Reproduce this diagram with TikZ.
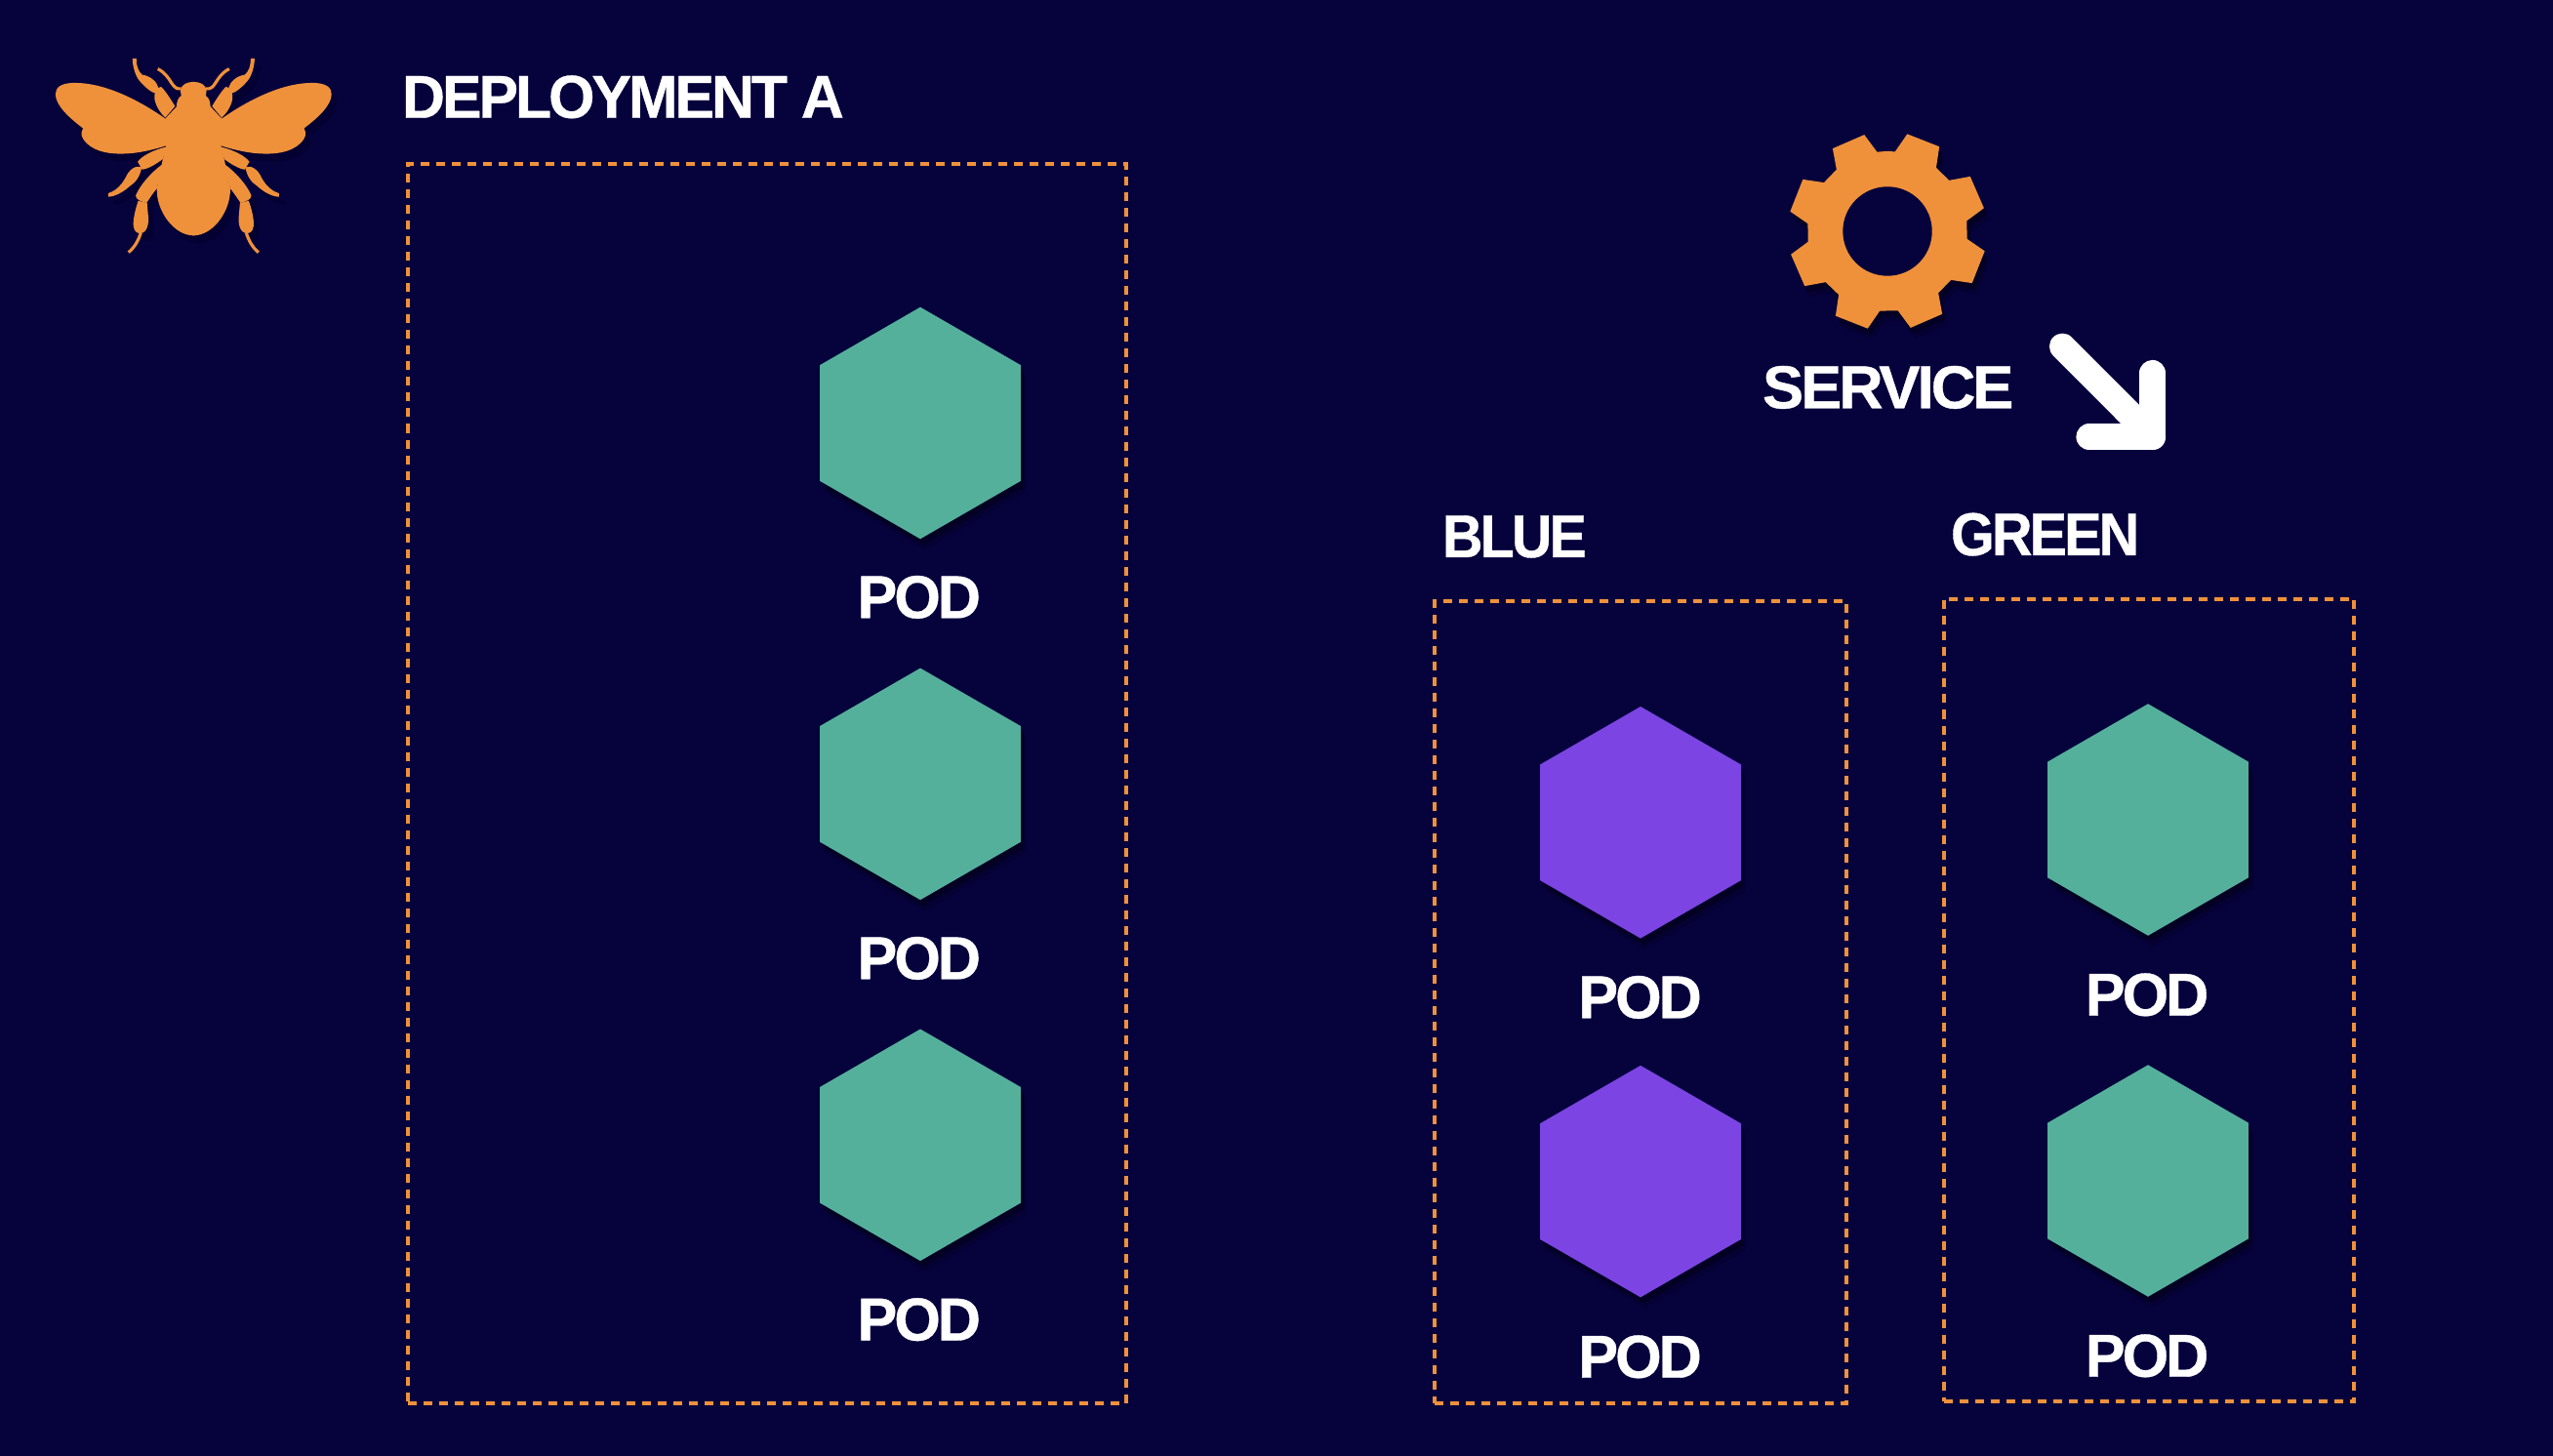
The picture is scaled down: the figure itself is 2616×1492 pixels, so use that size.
\documentclass[tikz,border=0pt]{standalone}
\usepackage{fontspec}
\usepackage{graphicx}
\usepackage{xcolor}
\usetikzlibrary{shapes.geometric,shadows}
\setmainfont[LetterSpace=-5,BoldFeatures={FakeBold=0.6}]{Liberation Sans}
\definecolor{bgblue}{HTML}{06023C}
\definecolor{beeorange}{HTML}{EF913A}
\definecolor{podgreen}{HTML}{54B09B}
\definecolor{podpurple}{HTML}{7B44E3}
\definecolor{shadowblue}{HTML}{03012A}
\tikzset{
    softshadow/.style={
        drop shadow={shadow xshift=0.05cm,shadow yshift=-0.11cm,opacity=0.15,fill=black},
        drop shadow={shadow xshift=0.03cm,shadow yshift=-0.06cm,opacity=0.3,fill=black}},
    pod/.style={regular polygon,regular polygon sides=6,shape border rotate=30,minimum size=2.374cm,inner sep=0pt,outer sep=0pt,softshadow},
    greenpod/.style={pod,fill=podgreen},
    purplepod/.style={pod,fill=podpurple},
    label/.style={text=white,font=\fontsize{17.65}{20}\selectfont\bfseries,inner sep=0pt,outer sep=0pt},
    podlabel/.style={label,anchor=base},
    title/.style={label,anchor=base west},
    dashbox/.style={draw=beeorange,line width=0.04cm,dash pattern=on 0.09cm off 0.07cm,anchor=north west,inner sep=0pt,outer sep=0pt},
    bigarrow/.style={draw=white,line width=0.267cm,line cap=round,line join=round},
    beefill/.style={fill=beeorange},
    beeline/.style={draw=beeorange,line width=0.9pt}
}
\newcommand{\podtext}{\scalebox{0.985}[1]{POD}}
\newcommand{\beehalf}{
    \fill[beefill] (-3,132) -- (0,132) .. controls (20,132) and (38,140) .. (40,158) -- (38,175) .. controls (48,180) and (52,195) .. (52,208) -- (87,245) -- (85,330) -- (95,372) -- (113,460) .. controls (115,530) and (60,605) .. (0,605) -- (-3,605) -- cycle;
    \fill[beefill] (87,245) .. controls (180,180) and (280,135) .. (365,135) .. controls (410,135) and (425,150) .. (425,170) .. controls (425,205) and (380,245) .. (340,275) .. controls (350,290) and (345,305) .. (330,320) .. controls (300,350) and (250,355) .. (210,353) .. controls (170,352) and (120,340) .. (83,328) -- (70,290) -- cycle;
    \draw[beeline] (38,153) .. controls (70,158) and (65,115) .. (110,92);
    \fill[beefill] (57,207) .. controls (70,185) and (90,155) .. (100,147) .. controls (115,150) and (122,165) .. (120,185) .. controls (115,210) and (100,230) .. (87,242) -- cycle;
    \fill[beefill] (108,150) .. controls (113,130) and (135,113) .. (158,110) .. controls (170,100) and (177,80) .. (176,60) -- (188,60) .. controls (188,85) and (178,115) .. (167,128) .. controls (150,148) and (130,165) .. (115,168) -- cycle;
    \fill[beefill] (83,332) .. controls (120,340) and (160,360) .. (172,378) -- (158,402) .. controls (140,400) and (115,385) .. (95,370) -- cycle;
    \fill[beefill] (160,395) .. controls (175,388) and (197,398) .. (210,428) .. controls (225,455) and (245,470) .. (263,475) -- (263,486) .. controls (240,485) and (215,470) .. (195,452) .. controls (178,442) and (163,420) .. (160,395) -- cycle;
    \fill[beefill] (95,385) .. controls (130,410) and (165,450) .. (178,482) .. controls (178,495) and (160,500) .. (145,505) .. controls (135,490) and (125,475) .. (113,460) -- cycle;
    \fill[beefill] (143,505) -- (170,498) .. controls (178,520) and (187,555) .. (185,575) .. controls (183,592) and (175,598) .. (165,598) .. controls (143,598) and (136,570) .. (140,540) -- cycle;
    \draw[beeline] (162,596) .. controls (170,620) and (180,640) .. (200,657);
}
\begin{document}
\begin{tikzpicture}[x=0.01cm,y=-0.01cm]
        \useasboundingbox (0,0) rectangle (2616,1492);
        \fill[bgblue] (0,0) rectangle (2616,1492);

        % bee
        \begin{scope}[shift={(204,48)},x=0.00333cm,y=-0.00333cm,
                beefill/.style={fill=shadowblue,opacity=0.5},beeline/.style={draw=none}]
            \beehalf
        \end{scope}
        \begin{scope}[shift={(204,48)},x=-0.00333cm,y=-0.00333cm,
                beefill/.style={fill=shadowblue,opacity=0.5},beeline/.style={draw=none}]
            \beehalf
        \end{scope}
        \begin{scope}[shift={(198.3,40)},x=0.00333cm,y=-0.00333cm]
            \beehalf
        \end{scope}
        \begin{scope}[shift={(198.3,40)},x=-0.00333cm,y=-0.00333cm]
            \beehalf
        \end{scope}

        % deployment
        \node[title] (depTitle) at (412,120.7) {\scalebox{0.98}[1]{DEPLOYMENT A}};
        \node[dashbox,minimum width=7.36cm,minimum height=12.697cm] (depBox) at (418,168) {};
        \node[greenpod] (depPodA) at (943,433.5) {};
        \node[greenpod] (depPodB) at (943,803.4) {};
        \node[greenpod] (depPodC) at (943,1173.3) {};
        \node[podlabel] (depLabelA) at (941.7,633.3) {\podtext};
        \node[podlabel] (depLabelB) at (941.7,1003.3) {\podtext};
        \node[podlabel] (depLabelC) at (941.7,1373.5) {\podtext};

        % service
        \begin{scope}[shift={(1934,237)}]
            \fill[beeorange,softshadow] (-91:82)
                \foreach \a in {-68.5,-23.5,21.5,66.5,111.5,156.5,201.5,246.5} {
                    -- ({\a-16}:82) -- ({\a-10}:101.7) -- ({\a+10}:101.7) -- ({\a+16}:82)
                } -- cycle;
            \fill[bgblue] (0,0) circle (45.7);
        \end{scope}
        \node[title] (serviceTitle) at (1806,418.3) {\scalebox{1.018}[1]{SERVICE}};
        \coordinate (arrowTail) at (2113.3,355);
        \coordinate (arrowTip) at (2205.7,447.7);
        \coordinate (arrowUp) at (2205.7,382.3);
        \coordinate (arrowLeft) at (2140.7,447.7);
        \draw[bigarrow] (arrowTail) -- (arrowTip);
        \draw[bigarrow] (arrowUp) -- (arrowTip) -- (arrowLeft);

        % blue
        \node[title] (blueTitle) at (1478,571) {\scalebox{0.925}[1]{BLUE}};
        \node[dashbox,minimum width=4.22cm,minimum height=8.217cm] (blueBox) at (1470,616) {};
        \node[purplepod] (bluePodA) at (1681,842.8) {};
        \node[purplepod] (bluePodB) at (1681,1210.6) {};
        \node[podlabel] (blueLabelA) at (1680.5,1043.3) {\podtext};
        \node[podlabel] (blueLabelB) at (1680.5,1411.7) {\podtext};

        % green
        \node[title] (greenTitle) at (1999,569) {\scalebox{0.927}[1]{GREEN}};
        \node[dashbox,minimum width=4.203cm,minimum height=8.22cm] (greenBox) at (1991.7,614) {};
        \node[greenpod] (greenPodA) at (2201,840) {};
        \node[greenpod] (greenPodB) at (2201,1210) {};
        \node[podlabel] (greenLabelA) at (2200,1040.7) {\podtext};
        \node[podlabel] (greenLabelB) at (2200,1410.7) {\podtext};
    \end{tikzpicture}
\end{document}
